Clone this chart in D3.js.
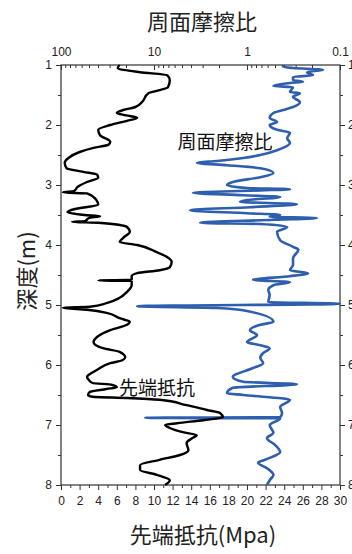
<!DOCTYPE html>
<html>
<head>
<meta charset="utf-8">
<script src="https://cdn.jsdelivr.net/npm/d3@7"></script>
<style>
  body { margin: 0; background: #fff; }
  text { font-family: "Noto Sans CJK JP", "Noto Sans", sans-serif; }
</style>
</head>
<body>
<div id="chart"></div>
<script>
// 先端抵抗 (MPa) vs depth
var qcDepth = [1.00,1.05,1.12,1.17,1.25,1.37,1.42,1.47,1.62,1.70,1.75,1.80,1.84,1.88,1.93,2.00,2.08,2.17,2.28,2.33,2.38,2.45,2.55,2.63,2.72,2.78,2.83,2.88,2.95,3.03,3.10,3.125,3.14,3.25,3.33,3.40,3.45,3.50,3.52,3.55,3.60,3.615,3.63,3.70,3.78,3.88,3.95,4.00,4.12,4.20,4.28,4.37,4.42,4.47,4.52,4.58,4.59,4.60,4.67,4.78,4.88,4.97,5.03,5.045,5.08,5.13,5.22,5.28,5.33,5.42,5.53,5.62,5.72,5.78,5.87,5.92,5.97,6.08,6.20,6.25,6.30,6.33,6.37,6.40,6.45,6.50,6.53,6.55,6.58,6.67,6.75,6.80,6.87,6.92,6.97,7.00,7.05,7.12,7.17,7.22,7.30,7.42,7.50,7.58,7.67,7.75,7.83,7.92,8.00];
var qcValue = [6.3,6.1,8.5,11.4,11.7,11.5,10.6,9.4,8.7,8.0,6.7,6.0,7.0,8.2,7.1,5.3,4.0,4.2,5.3,5.1,3.5,2.0,0.8,0.4,0.6,2.4,3.9,4.0,2.8,1.8,1.4,0.2,2.8,3.8,4.0,1.5,0.7,2.5,4.2,3.0,2.6,1.2,4.0,7.1,7.4,6.7,6.3,8.2,10.3,11.4,11.9,11.7,10.6,8.2,7.6,7.6,4.0,7.6,7.6,7.1,6.3,4.9,3.1,0.2,2.8,4.9,6.3,7.4,7.1,5.3,3.9,3.5,4.5,6.3,6.9,6.6,5.3,3.9,2.8,3.0,3.4,5.5,6.0,4.9,3.1,2.9,3.4,7.1,10.6,13.5,15.7,17.1,17.4,15.3,12.5,11.2,11.7,13.1,14.6,14.1,13.5,13.7,12.8,10.6,8.5,8.5,10.3,11.7,11.2];

// 周面摩擦比 vs depth
var frDepth = [1.00,1.03,1.05,1.08,1.12,1.17,1.20,1.25,1.28,1.30,1.35,1.37,1.45,1.47,1.53,1.62,1.70,1.75,1.80,1.88,1.95,2.00,2.08,2.13,2.22,2.30,2.42,2.50,2.55,2.60,2.63,2.67,2.72,2.80,2.87,2.95,3.00,3.05,3.07,3.09,3.13,3.17,3.20,3.25,3.28,3.32,3.37,3.42,3.47,3.50,3.53,3.55,3.58,3.63,3.65,3.70,3.78,3.92,4.03,4.08,4.22,4.33,4.42,4.47,4.52,4.58,4.62,4.67,4.75,4.83,4.95,4.98,5.02,5.05,5.10,5.28,5.33,5.42,5.50,5.62,5.67,5.72,5.80,5.88,5.97,6.05,6.20,6.28,6.32,6.38,6.47,6.50,6.58,6.70,6.80,6.87,6.88,6.89,7.00,7.13,7.22,7.33,7.45,7.58,7.63,7.72,7.83,7.92,8.00];
var frValue = [0.41,0.41,0.32,0.152,0.226,0.195,0.32,0.32,0.25,0.345,0.52,0.32,0.345,0.27,0.32,0.27,0.32,0.41,0.52,0.57,0.475,0.57,0.475,0.345,0.37,0.345,0.475,0.72,1.10,2.1,3.45,1.64,0.72,0.52,0.72,1.42,1.64,1.0,0.345,0.72,3.81,1.10,0.44,1.0,1.19,0.29,0.93,4.1,1.0,0.44,0.57,0.177,0.52,3.2,0.72,0.37,0.475,0.44,0.32,0.28,0.32,0.32,0.345,0.22,0.345,0.86,0.345,0.52,0.59,0.57,0.59,0.1,15.2,2.1,1.0,0.52,0.72,0.93,0.78,1.0,0.72,0.57,0.67,0.72,0.67,0.86,1.42,1.10,0.29,1.42,1.64,1.10,0.345,0.44,0.42,0.44,12.5,0.44,0.57,0.52,0.61,0.50,0.44,0.64,0.76,0.61,0.52,0.57,0.61];

var depthMajor = [1,2,3,4,5,6,7,8];
var qcMajor = [0,2,4,6,8,10,12,14,16,18,20,22,24,26,28,30];
var frMajor = [100,10,1,0.1];

var W = 352, H = 554;
var pL = 61, pR = 340, pT = 65, pB = 485;

var svg = d3.select("#chart").append("svg")
  .attr("width", W).attr("height", H);

var y = d3.scaleLinear().domain([1, 8]).range([pT, pB]);
var x = d3.scaleLinear().domain([0, 30]).range([pL, pR]);
var xr = d3.scaleLog().domain([100, 0.1]).range([pL, pR]);

function styleAxis(g) {
  g.select(".domain").remove();
  g.selectAll("line").attr("stroke", "#333");
  g.selectAll("text").attr("fill", "#222")
    .style("font-family", "'Liberation Sans', Arial, sans-serif")
    .style("font-size", "12px");
}

// left depth axis
svg.append("g").attr("transform", "translate(" + pL + ",0)")
  .call(d3.axisLeft(y).tickValues(depthMajor).tickSize(5).tickPadding(4).tickFormat(d3.format("d")))
  .call(styleAxis);
svg.append("g").attr("transform", "translate(" + pL + ",0)")
  .call(d3.axisLeft(y).tickValues(d3.range(1.5, 8, 1)).tickSize(3).tickFormat(""))
  .call(styleAxis);

// right depth axis
svg.append("g").attr("transform", "translate(" + pR + ",0)")
  .call(d3.axisRight(y).tickValues(depthMajor).tickSize(5).tickPadding(3).tickFormat(d3.format("d")))
  .call(styleAxis);
svg.append("g").attr("transform", "translate(" + pR + ",0)")
  .call(d3.axisRight(y).tickValues(d3.range(1.5, 8, 1)).tickSize(3).tickFormat(""))
  .call(styleAxis);

// bottom qc axis
svg.append("g").attr("transform", "translate(0," + pB + ")")
  .call(d3.axisBottom(x).tickValues(qcMajor).tickSize(5).tickPadding(6).tickFormat(d3.format("d")))
  .call(styleAxis);
svg.append("g").attr("transform", "translate(0," + pB + ")")
  .call(d3.axisBottom(x).tickValues(d3.range(1, 30, 2)).tickSize(3).tickFormat(""))
  .call(styleAxis);

// top friction ratio axis (log, ticks inward)
var frMinor = [];
[10, 1, 0.1].forEach(function(b) {
  for (var i = 2; i <= 9; i++) frMinor.push(b * i);
});
svg.append("g").attr("transform", "translate(0," + pT + ")")
  .call(d3.axisTop(xr).tickValues(frMajor).tickSize(-5).tickPadding(9).tickFormat(function(d) { return d >= 1 ? d3.format("d")(d) : "0.1"; }))
  .call(styleAxis);
svg.append("g").attr("transform", "translate(0," + pT + ")")
  .call(d3.axisTop(xr).tickValues(frMinor).tickSize(-3).tickFormat(""))
  .call(styleAxis);

// frame
svg.append("rect")
  .attr("x", pL).attr("y", pT)
  .attr("width", pR - pL).attr("height", pB - pT)
  .attr("fill", "none").attr("stroke", "#333").attr("stroke-width", 1.2);

// curves
var qcLine = d3.line()
  .x(function(d, i) { return x(qcValue[i]); })
  .y(function(d) { return y(d); })
  .curve(d3.curveMonotoneY);
var frLine = d3.line()
  .x(function(d, i) { return xr(frValue[i]); })
  .y(function(d) { return y(d); })
  .curve(d3.curveMonotoneY);

svg.append("path").datum(frDepth)
  .attr("d", frLine)
  .attr("fill", "none").attr("stroke", "#2e5fae").attr("stroke-width", 2.6)
  .attr("stroke-linejoin", "round");
svg.append("path").datum(qcDepth)
  .attr("d", qcLine)
  .attr("fill", "none").attr("stroke", "#000").attr("stroke-width", 2.4)
  .attr("stroke-linejoin", "round");

// titles
svg.append("text")
  .attr("x", 202).attr("y", 30)
  .attr("text-anchor", "middle")
  .style("font-size", "22px").attr("fill", "#222")
  .text("周面摩擦比");

svg.append("text")
  .attr("x", 203).attr("y", 543)
  .attr("text-anchor", "middle")
  .style("font-size", "22px").attr("fill", "#222")
  .text("先端抵抗(Mpa)");

svg.append("text")
  .attr("transform", "translate(35,271) rotate(-90)")
  .attr("text-anchor", "middle")
  .style("font-size", "22px").attr("fill", "#222")
  .text("深度(m)");

// inline labels
svg.append("text")
  .attr("x", 225).attr("y", 149)
  .attr("text-anchor", "middle")
  .style("font-size", "19px").attr("fill", "#111")
  .text("周面摩擦比");

svg.append("text")
  .attr("x", 157).attr("y", 395)
  .attr("text-anchor", "middle")
  .style("font-size", "19px").attr("fill", "#111")
  .text("先端抵抗");
</script>
</body>
</html>
